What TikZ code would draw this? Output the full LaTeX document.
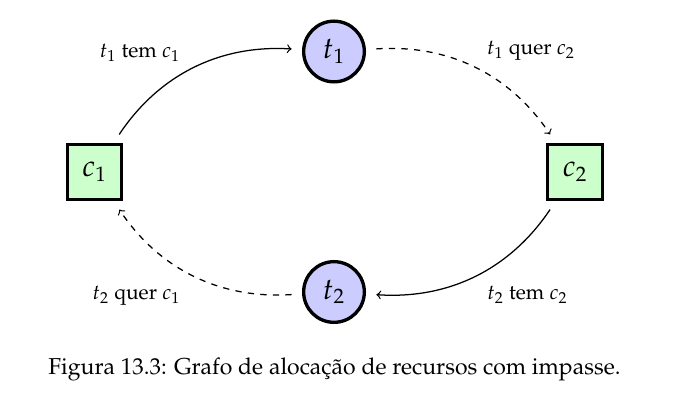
\documentclass[tikz,border=0pt]{standalone}
\usepackage[T1]{fontenc}
\usepackage{mathpazo}
\definecolor{corTarefa}{RGB}{204,204,255}
\definecolor{corRecurso}{RGB}{204,255,204}

\begin{document}
\begin{tikzpicture}[x=0.478pt,y=-0.478pt,
  tarefa/.style={circle,draw,ultra thick,fill=corTarefa,minimum size=29pt,inner sep=0pt,font=\Large},
  recurso/.style={rectangle,draw,ultra thick,fill=corRecurso,minimum size=26pt,inner sep=0pt,font=\Large},
  tem/.style={->,semithick,bend left=30,shorten >=5pt,shorten <=5pt},
  quer/.style={tem,dashed},
  rotulo/.style={anchor=base}]
\useasboundingbox (0,0) rectangle (676,406);

\node[recurso] (c1) at (94.5,172) {$c_1$};
\node[tarefa] (t1) at (334,51.5) {$t_1$};
\node[recurso] (c2) at (575,172) {$c_2$};
\node[tarefa] (t2) at (334,292) {$t_2$};

\draw[tem] (c1) to (t1);
\draw[quer] (t1) to (c2);
\draw[tem] (c2) to (t2);
\draw[quer] (t2) to (c1);

\node[rotulo] (l1) at (140,58) {$t_1$ tem $c_1$};
\node[rotulo] (l2) at (531,55) {$t_1$ quer $c_2$};
\node[rotulo] (l3) at (527.5,300) {$t_2$ tem $c_2$};
\node[rotulo] (l4) at (136.5,300) {$t_2$ quer $c_1$};

\node[rotulo,font=\fontsize{11}{13}\selectfont] (legenda) at (334.5,375) {Figura 13.3: Grafo de aloca\c{c}\~{a}o de recursos com impasse.};
\end{tikzpicture}
\end{document}
